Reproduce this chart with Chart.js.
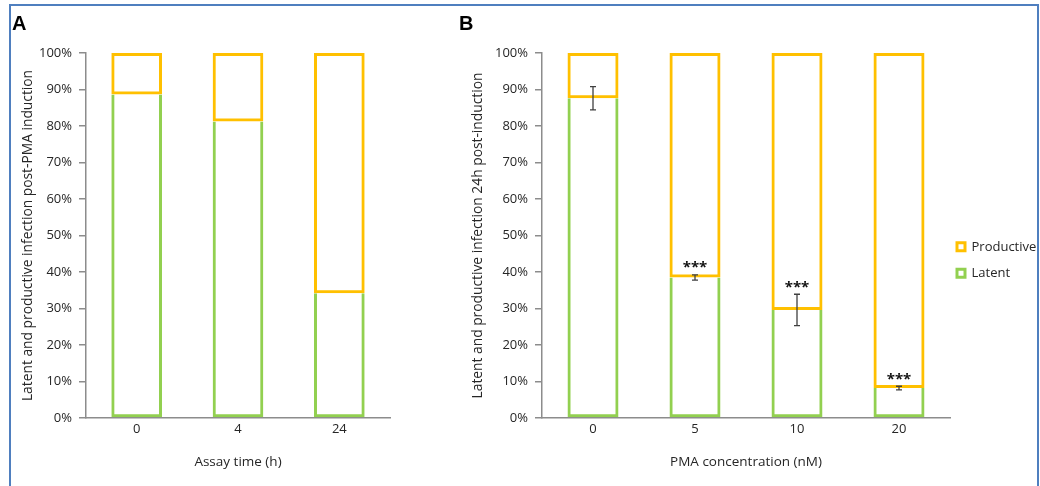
<!DOCTYPE html>
<html><head><meta charset="utf-8">
<script src="https://cdn.jsdelivr.net/npm/chart.js@4.4.1/dist/chart.umd.min.js"></script>
<style>
html,body{margin:0;padding:0;background:#fff;width:1040px;height:486px;overflow:hidden;}
#frame{position:absolute;left:9px;top:4px;width:1026px;height:520px;border:2px solid #4f7fbf;}
.panel{position:absolute;font-family:"Liberation Sans",Arial,sans-serif;font-weight:bold;font-size:20px;line-height:20px;color:#000;}
#wa{position:absolute;left:11px;top:6px;width:431px;height:478px;}
#wb{position:absolute;left:442px;top:6px;width:595px;height:478px;}
</style></head>
<body>
<div id="frame"></div>
<div id="wa"><canvas id="ca" width="431" height="478"></canvas></div>
<div id="wb"><canvas id="cb" width="595" height="478"></canvas></div>
<div class="panel" style="left:12px;top:13px;">A</div>
<div class="panel" style="left:459px;top:13px;">B</div>
<script>
// ---- data ----
const catsA = ['0', '4', '24'];
const latentA = [88.6, 81.2, 34.2];
const productiveA = [11.4, 18.8, 65.8];

const catsB = ['0', '5', '10', '20'];
const latentB = [87.6, 38.5, 29.6, 8.2];
const productiveB = [12.4, 61.5, 70.4, 91.8];
const errB = [3.2, 0.7, 4.3, 0.5];
const sigB = ['', '***', '***', '***'];

const titleAx = 'Assay time (h)';
const titleAy = 'Latent and productive infection post-PMA induction';
const titleBx = 'PMA concentration (nM)';
const titleBy = 'Latent and productive infection 24h post-induction';

// ---- style ----
const GREEN = '#92d050', ORANGE = '#ffc000', AXIS = '#8c8c8c', TXT = '#262626';
Chart.defaults.font.family = '"Open Sans", Lato, sans-serif';
Chart.defaults.color = TXT;

function datasets(latent, productive) {
  return [
    {label: 'Latent', data: latent, borderColor: GREEN, backgroundColor: 'rgba(255,255,255,0)',
     borderWidth: 3, borderSkipped: 'top', barPercentage: 0.5, categoryPercentage: 1},
    {label: 'Productive', data: productive, borderColor: ORANGE, backgroundColor: 'rgba(255,255,255,0)',
     borderWidth: 3, borderSkipped: false, barPercentage: 0.5, categoryPercentage: 1}
  ];
}

function opts(p) {
  return {
    responsive: false, animation: false, maintainAspectRatio: false,
    layout: {padding: {left: 0, right: p.padRight, top: 47, bottom: p.padBottom}},
    plugins: {legend: p.legend, tooltip: {enabled: false}},
    scales: {
      x: {stacked: true,
          grid: {display: false, drawTicks: false},
          border: {display: true, color: AXIS, width: 1.5},
          ticks: {font: {size: 13}, color: TXT, padding: p.xTickPad},
          title: {display: true, text: p.xTitle, font: {size: 13.5}, color: TXT, padding: {top: 0, bottom: p.xTitlePad}},
          afterFit: s => { s.height = p.xH; }},
      y: {stacked: true, min: 0, max: 100,
          grid: {display: true, drawOnChartArea: false, drawTicks: true, tickLength: 7, color: AXIS, lineWidth: 1.5},
          border: {display: true, color: AXIS, width: 1.5},
          ticks: {stepSize: 10, font: {size: 13}, color: TXT, padding: 7, callback: v => v + '%'},
          title: {display: true, text: p.yTitle, font: {size: 13.8}, color: TXT, padding: {top: p.yTitlePad, bottom: 0}},
          afterFit: s => { s.width = p.yW; }}
    }
  };
}

new Chart(document.getElementById('ca'), {
  type: 'bar',
  data: {labels: catsA, datasets: datasets(latentA, productiveA)},
  options: opts({padRight: 52, padBottom: 6, xH: 60, xTickPad: 3, xTitle: titleAx, xTitlePad: 7.4,
                 yTitle: titleAy, yTitlePad: 9.2, yW: 75, legend: {display: false}})
});

const errorBarPlugin = {
  id: 'errbars',
  afterDatasetsDraw(chart) {
    const meta = chart.getDatasetMeta(0);
    const y = chart.scales.y;
    const ctx = chart.ctx;
    ctx.save();
    ctx.strokeStyle = '#404040';
    ctx.lineWidth = 1.3;
    meta.data.forEach((bar, i) => {
      const v = latentB[i], e = errB[i];
      const yt = y.getPixelForValue(v + e), yb = y.getPixelForValue(v - e), x = bar.x;
      ctx.beginPath();
      ctx.moveTo(x, yt); ctx.lineTo(x, yb);
      ctx.moveTo(x - 3, yt); ctx.lineTo(x + 3, yt);
      ctx.moveTo(x - 3, yb); ctx.lineTo(x + 3, yb);
      ctx.stroke();
      if (sigB[i]) {
        ctx.fillStyle = '#111';
        ctx.font = 'bold 15px "Open Sans"';
        ctx.textAlign = 'center';
        ctx.textBaseline = 'middle';
        ctx.fillText(sigB[i], x, yt - 7);
      }
    });
    ctx.restore();
  }
};

new Chart(document.getElementById('cb'), {
  type: 'bar',
  data: {labels: catsB, datasets: datasets(latentB, productiveB)},
  plugins: [errorBarPlugin],
  options: opts({padRight: 0, padBottom: 10.7, xH: 55.3, xTickPad: 3, xTitle: titleBx, xTitlePad: 2.7,
                 yTitle: titleBy, yTitlePad: 27.7, yW: 100,
                 legend: {display: true, position: 'right', maxWidth: 87,
                   labels: {boxWidth: 8, boxHeight: 8, padding: 7, color: TXT,
                            font: {size: 13, lineHeight: '19.3px'},
                            generateLabels(chart) {
                              const items = Chart.defaults.plugins.legend.labels.generateLabels(chart);
                              items.forEach(it => { it.text = [it.text]; it.fillStyle = '#ffffff'; });
                              return items.reverse();
                            }}}})
});
</script>
</body></html>
